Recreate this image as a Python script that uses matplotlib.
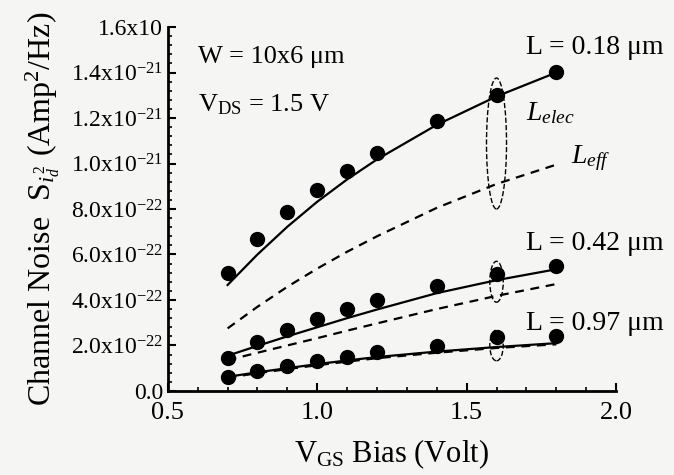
import matplotlib
matplotlib.use('Agg')
import matplotlib.pyplot as plt
from matplotlib.patches import Ellipse
from matplotlib.ticker import MultipleLocator

plt.rcParams['font.family'] = ['Liberation Serif', 'DejaVu Serif']
plt.rcParams['mathtext.fontset'] = 'custom'
plt.rcParams['mathtext.rm'] = 'Liberation Serif'
plt.rcParams['mathtext.it'] = 'Liberation Serif:italic'

# gate bias (V)
vgs = [0.7, 0.8, 0.9, 1.0, 1.1, 1.2, 1.4, 1.6, 1.8]

# channel noise in units of 1e-21 A^2/Hz
meas_018 = [0.52, 0.668, 0.787, 0.884, 0.967, 1.047, 1.187, 1.301, 1.402]
elec_018 = [0.466, 0.60, 0.722, 0.832, 0.93, 1.018, 1.17, 1.295, 1.40]
eff_018 = [0.275, 0.37, 0.458, 0.538, 0.612, 0.68, 0.805, 0.91, 0.995]

meas_042 = [0.145, 0.216, 0.268, 0.316, 0.36, 0.40, 0.463, 0.514, 0.55]
elec_042 = [0.155, 0.198, 0.24, 0.28, 0.32, 0.358, 0.43, 0.487, 0.535]
eff_042 = [0.135, 0.168, 0.20, 0.232, 0.265, 0.297, 0.36, 0.418, 0.47]

meas_097 = [0.063, 0.089, 0.11, 0.133, 0.151, 0.173, 0.198, 0.237, 0.243]
elec_097 = [0.062, 0.082, 0.10, 0.118, 0.134, 0.149, 0.173, 0.193, 0.21]
eff_097 = [0.058, 0.078, 0.096, 0.113, 0.129, 0.144, 0.168, 0.189, 0.205]

yticks = [0.0, 0.2, 0.4, 0.6, 0.8, 1.0, 1.2, 1.4, 1.6]
yticklabels = ['0.0', '2.0x10$^{-22}$', '4.0x10$^{-22}$', '6.0x10$^{-22}$',
               '8.0x10$^{-22}$', '1.0x10$^{-21}$', '1.2x10$^{-21}$',
               '1.4x10$^{-21}$', '1.6x10']
xticks = [0.5, 1.0, 1.5, 2.0]

bg = '#f5f5f3'
fig = plt.figure(figsize=(6.74, 4.75), dpi=100, facecolor=bg)
ax = fig.add_axes([0.249, 0.177, 0.665, 0.766], facecolor=bg)

for meas, elec, eff in [(meas_018, elec_018, eff_018),
                        (meas_042, elec_042, eff_042),
                        (meas_097, elec_097, eff_097)]:
    ax.plot(vgs, meas, 'o', color='black', markersize=10)
    ax.plot(vgs, elec, '-', color='black', lw=1.6)
    ax.plot(vgs, eff, '--', color='black', lw=1.6, dashes=(4, 3))

# dashed ellipses at VGS = 1.6 V
for cy, h, w in [(1.088, 0.576, 0.067), (0.48, 0.18, 0.045), (0.20, 0.135, 0.045)]:
    ax.add_patch(Ellipse((1.6, cy), w, h, fill=False, ls='--', lw=1.0, color='black'))

ax.set_xlim(0.5, 2.0)
ax.set_ylim(0, 1.6)
ax.set_xticks(xticks)
ax.set_xticklabels(['0.5', '1.0', '1.5', '2.0'], fontsize=19)
ax.set_yticks(yticks)
ax.set_yticklabels(yticklabels, fontsize=17)
ax.xaxis.set_minor_locator(MultipleLocator(0.1))
ax.yaxis.set_minor_locator(MultipleLocator(0.04))
ax.tick_params(which='major', direction='in', length=6, width=1.5)
ax.tick_params(which='minor', direction='in', length=3, width=1.2)
ax.tick_params(axis='x', pad=8)
for s in ['top', 'right']:
    ax.spines[s].set_visible(False)
for s in ['left', 'bottom']:
    ax.spines[s].set_linewidth(2)

ax.set_xlabel('V$_{\\mathrm{GS}}$ Bias (Volt)', fontsize=22, labelpad=10)
ax.set_ylabel('Channel Noise  S$_{i_d^{\\,2}}$ (Amp$^2$/Hz)', fontsize=23, labelpad=6)

ax.text(0.6, 1.44, 'W = 10x6 \u03bcm', fontsize=19)
ax.text(0.6, 1.23, 'V$_{\\mathrm{DS}}$ = 1.5 V', fontsize=19)
ax.text(1.7, 1.48, 'L = 0.18 \u03bcm', fontsize=20)
ax.text(1.7, 1.19, '$L_{elec}$', fontsize=20)
ax.text(1.85, 1.0, '$L_{eff}$', fontsize=20)
ax.text(1.7, 0.62, 'L = 0.42 \u03bcm', fontsize=20)
ax.text(1.7, 0.27, 'L = 0.97 \u03bcm', fontsize=20)

fig.savefig('out.png', dpi=100, facecolor=bg)
